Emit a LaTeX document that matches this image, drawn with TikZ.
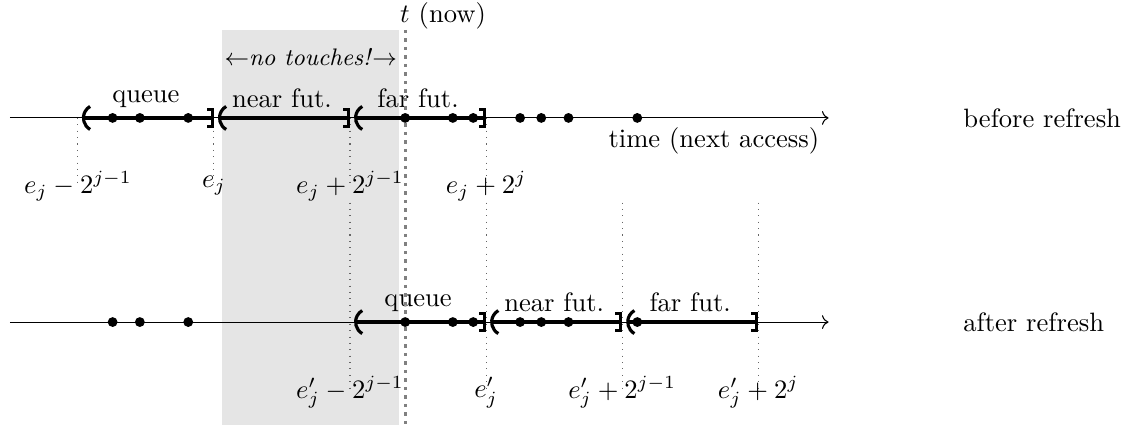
\documentclass[tikz,border=0pt]{standalone}
\usepackage{amsmath,amssymb}
\usepackage{xcolor}
\usepackage{tikz}
\usetikzlibrary{arrows.meta,positioning,backgrounds}

\begin{document}
\begin{tikzpicture}[
  axis/.style={->, thin},
  seg/.style={very thick, {Parenthesis[scale=1.25]}-{Bracket[]}, shorten <=1.5pt},
  dot/.style={circle, fill, inner sep=0pt, minimum size=1.3mm},
  guide/.style={dotted, gray!80!black, thin},
  nowline/.style={line width=1.2pt, dotted, gray},
  zone/.style={fill=gray!20, draw=none},
  lbl/.style={font=\normalsize, inner sep=3pt}
]
\useasboundingbox (-2.83,1.56) rectangle (12.25,-4.06);
% --- no-touch zone and current time ---
\fill[zone] (0.11,1.165) rectangle (2.45,-4.06);
\node[font=\small] (nt) at (1.28,0.81) {$\leftarrow$\textit{no touches!}$\rightarrow$};
\coordinate (ttop) at (2.53,1.165);
\coordinate (tbot) at (2.53,-4.06);
\node[anchor=base west] (tlbl) at (2.34,1.257) {$t$ (now)};
% --- interval boundaries ---
\coordinate (b0) at (-1.8,0);
\coordinate (b1) at (0,0);
\coordinate (b2) at (1.8,0);
\coordinate (b3) at (3.6,0);
\coordinate (c0) at (1.8,-2.7);
\coordinate (c1) at (3.6,-2.7);
\coordinate (c2) at (5.4,-2.7);
\coordinate (c3) at (7.2,-2.7);
% --- boundary labels ---
\node[lbl] (l0) at (-1.8,-0.9) {$e_j-2^{j-1}$};
\node[lbl] (l1) at (0,-0.9)    {$e_j$};
\node[lbl] (l2) at (1.8,-0.9)  {$e_j+2^{j-1}$};
\node[lbl] (l3) at (3.6,-0.9)  {$e_j+2^j$};
\node[lbl] (m0) at (1.8,-3.63) {$e'_j-2^{j-1}$};
\node[lbl] (m1) at (3.6,-3.63) {$e'_j$};
\node[lbl] (m2) at (5.4,-3.63) {$e'_j+2^{j-1}$};
\node[lbl] (m3) at (7.2,-3.63) {$e'_j+2^j$};
\coordinate (g0) at (1.8,-1.12);
\coordinate (g1) at (3.6,-1.12);
\coordinate (g2) at (5.4,-1.12);
\coordinate (g3) at (7.2,-1.12);
\draw[guide] (b0) -- (l0.center);
\draw[guide] (b1) -- (l1.center);
\draw[guide] (b2) -- (l2.center);
\draw[guide] (b3) -- (l3.center);
\draw[guide] (g0) -- (m0.center);
\draw[guide] (g1) -- (m1.center);
\draw[guide] (g2) -- (m2.center);
\draw[guide] (g3) -- (m3.center);
% --- before refresh ---
\coordinate (s1) at (-2.70,0);
\coordinate (e1) at (8.13,0);
\draw[axis] (s1) -- (e1) node[below left] (tm) {time (next access)};
\draw[seg] (b0) -- node[above] (q1) {queue} (b1);
\draw[seg] (b1) -- node[above] (n1) {near fut.} (b2);
\draw[seg] (b2) -- node[above] (f1) {far fut.} (b3);
\node[anchor=west] (bef) at (9.79,0) {before refresh};
% --- after refresh ---
\coordinate (s2) at (-2.70,-2.7);
\coordinate (e2) at (8.13,-2.7);
\draw[axis] (s2) -- (e2);
\draw[seg] (c0) -- node[above] (q2) {queue} (c1);
\draw[seg] (c1) -- node[above] (n2) {near fut.} (c2);
\draw[seg] (c2) -- node[above] (f2) {far fut.} (c3);
\node[anchor=west] (aft) at (9.79,-2.7) {after refresh};
% --- now ---
\draw[nowline] (ttop) -- (tbot);
% --- accesses ---
\node[dot] (p1) at (-1.34,0) {}; \node[dot] (p2) at (-0.98,0) {}; \node[dot] (p3) at (-0.34,0) {};
\node[dot] (p4) at (2.53,0) {};  \node[dot] (p5) at (3.16,0) {};  \node[dot] (p6) at (3.43,0) {};
\node[dot] (p7) at (4.05,0) {};  \node[dot] (p8) at (4.33,0) {};  \node[dot] (p9) at (4.69,0) {};
\node[dot] (p10) at (5.60,0) {};
\node[dot] (r1) at (-1.34,-2.7) {}; \node[dot] (r2) at (-0.98,-2.7) {}; \node[dot] (r3) at (-0.34,-2.7) {};
\node[dot] (r4) at (2.53,-2.7) {};  \node[dot] (r5) at (3.16,-2.7) {};  \node[dot] (r6) at (3.43,-2.7) {};
\node[dot] (r7) at (4.05,-2.7) {};  \node[dot] (r8) at (4.33,-2.7) {};  \node[dot] (r9) at (4.69,-2.7) {};
\node[dot] (r10) at (5.60,-2.7) {};
\end{tikzpicture}
\end{document}
